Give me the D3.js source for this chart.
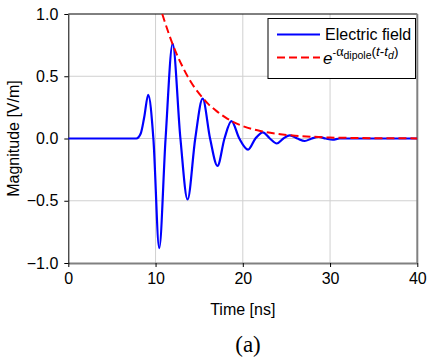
<!DOCTYPE html>
<html>
<head>
<meta charset="utf-8">
<script src="https://d3js.org/d3.v7.min.js"></script>
<style>
  body { margin: 0; background: white; }
  text { font-family: "Liberation Sans", Arial, sans-serif; }
</style>
</head>
<body>
<div id="viz-container"></div>
<script>
// data
let fieldTime = [0, 7.8, 8.3, 8.7, 9.16, 9.75, 10.42, 11.15, 11.96, 12.85, 13.67, 14.55, 15.4, 16.25, 17.1, 17.9, 18.7, 19.6, 20.6, 21.45, 22.3, 23.1, 23.9, 24.65, 25.4, 26.25, 27.1, 27.9, 28.7, 29.5, 30.3, 31.1, 32, 40];
let fieldValue = [0, 0, 0.04, 0.17, 0.35, 0, -0.88, 0, 0.76, 0, -0.49, 0, 0.32, 0, -0.22, 0, 0.14, 0, -0.09, 0, 0.05, 0, -0.04, 0, 0.025, 0, -0.02, 0, 0.012, 0, -0.01, 0, 0, 0];

let envTime = [10.77, 11, 12, 13, 14, 15, 16, 17, 18, 19, 20, 22, 24, 26, 28, 30, 33, 36, 40];
let envValue = [1.0, 0.95, 0.75, 0.59, 0.46, 0.36, 0.28, 0.22, 0.17, 0.13, 0.10, 0.06, 0.037, 0.023, 0.014, 0.008, 0.004, 0.002, 0.001];

let xTicks = [0, 10, 20, 30, 40];
let yTicks = [-1.0, -0.5, 0.0, 0.5, 1.0];

let W = 434, H = 360;
let pLeft = 68.3, pRight = 417.3, pTop = 14, pBottom = 263;

let viz = d3.select("#viz-container")
  .append("svg")
    .attr("width", W)
    .attr("height", H)
;

let x = d3.scaleLinear().domain([0, 40]).range([pLeft, pRight]);
let y = d3.scaleLinear().domain([-1, 1]).range([pBottom, pTop]);

// grid lines
viz.append("g").selectAll("line")
  .data(xTicks.slice(1, -1))
  .join("line")
    .attr("x1", d => x(d)).attr("x2", d => x(d))
    .attr("y1", pTop).attr("y2", pBottom)
    .attr("stroke", "#d0d0d0").attr("stroke-width", 1);

viz.append("g").selectAll("line")
  .data(yTicks.slice(1, -1))
  .join("line")
    .attr("x1", pLeft).attr("x2", pRight)
    .attr("y1", d => y(d)).attr("y2", d => y(d))
    .attr("stroke", "#d0d0d0").attr("stroke-width", 1);

// frame: top black, right gray
viz.append("line")
  .attr("x1", pLeft).attr("x2", pRight).attr("y1", pTop).attr("y2", pTop)
  .attr("stroke", "black").attr("stroke-width", 1);
viz.append("line")
  .attr("x1", pRight).attr("x2", pRight).attr("y1", pTop).attr("y2", pBottom)
  .attr("stroke", "#808080").attr("stroke-width", 2);

// axes
let xAxis = viz.append("g")
  .attr("transform", `translate(0,${pBottom})`)
  .call(d3.axisBottom(x).tickValues(xTicks).tickFormat(d3.format("d")).tickSize(4).tickSizeOuter(0).tickPadding(6));
xAxis.select(".domain").attr("stroke", "#808080").attr("stroke-width", 2);
xAxis.selectAll(".tick line").attr("stroke", "black");
xAxis.selectAll("text").attr("font-size", 16).attr("fill", "black")
  .style("font-family", "'Liberation Sans', Arial, sans-serif");

let yAxis = viz.append("g")
  .attr("transform", `translate(${pLeft},0)`)
  .call(d3.axisLeft(y).tickValues(yTicks).tickFormat(d3.format(".1f")).tickSize(4).tickSizeOuter(0).tickPadding(6));
yAxis.select(".domain").attr("stroke", "black").attr("stroke-width", 1);
yAxis.selectAll(".tick line").attr("stroke", "black");
yAxis.selectAll("text").attr("font-size", 16).attr("fill", "black")
  .style("font-family", "'Liberation Sans', Arial, sans-serif");

// curves
viz.append("clipPath").attr("id", "plot-clip")
  .append("rect").attr("x", pLeft).attr("y", pTop - 1)
  .attr("width", pRight - pLeft).attr("height", pBottom - pTop + 2);

let line = d3.line()
  .x(d => x(d[0]))
  .y(d => y(d[1]))
  .curve(d3.curveMonotoneX);

viz.append("path")
  .datum(fieldTime.map((t, i) => [t, fieldValue[i]]))
  .attr("d", line)
  .attr("fill", "none")
  .attr("stroke", "#0000ff")
  .attr("stroke-width", 2.2)
  .attr("clip-path", "url(#plot-clip)");

viz.append("path")
  .datum(envTime.map((t, i) => [t, envValue[i]]))
  .attr("d", line)
  .attr("fill", "none")
  .attr("stroke", "#ff0000")
  .attr("stroke-width", 2)
  .attr("stroke-dasharray", "8,4")
  .attr("clip-path", "url(#plot-clip)");

// legend
let legend = viz.append("g");
legend.append("rect")
  .attr("x", 268).attr("y", 18.5)
  .attr("width", 147.5).attr("height", 60)
  .attr("fill", "white").attr("stroke", "black").attr("stroke-width", 1);
legend.append("line")
  .attr("x1", 277).attr("x2", 320).attr("y1", 34.5).attr("y2", 34.5)
  .attr("stroke", "#0000ff").attr("stroke-width", 2);
legend.append("text")
  .attr("x", 325).attr("y", 40)
  .attr("font-size", 16)
  .text("Electric field");
legend.append("line")
  .attr("x1", 277).attr("x2", 320).attr("y1", 57.5).attr("y2", 57.5)
  .attr("stroke", "#ff0000").attr("stroke-width", 2)
  .attr("stroke-dasharray", "8,4");

let eq = legend.append("text")
  .attr("x", 323).attr("y", 64)
  .attr("font-size", 17);
eq.append("tspan").attr("font-style", "italic").text("e");
eq.append("tspan").attr("font-size", 11).attr("dy", -8).text("-");
eq.append("tspan").attr("font-size", 14).attr("font-family", "'Liberation Serif', serif").text("α");
eq.append("tspan").attr("font-size", 10.5).attr("dy", 2.5).text("dipole");
eq.append("tspan").attr("font-size", 13.5).attr("dy", -2.5).text("(");
eq.append("tspan").attr("font-size", 13.5).attr("font-style", "italic").text("t");
eq.append("tspan").attr("font-size", 13.5).text("-");
eq.append("tspan").attr("font-size", 13.5).attr("font-style", "italic").text("t");
eq.append("tspan").attr("font-size", 10.5).attr("font-style", "italic").attr("dy", 2.5).text("d");
eq.append("tspan").attr("font-size", 13.5).attr("dy", -2.5).text(")");

// axis titles
viz.append("text")
  .attr("x", (pLeft + pRight) / 2).attr("y", 315)
  .attr("text-anchor", "middle")
  .attr("font-size", 16)
  .text("Time [ns]");

viz.append("text")
  .attr("transform", `translate(19,${(pTop + pBottom) / 2}) rotate(-90)`)
  .attr("text-anchor", "middle")
  .attr("font-size", 16)
  .text("Magnitude [V/m]");

viz.append("text")
  .attr("x", 248).attr("y", 352)
  .attr("text-anchor", "middle")
  .attr("font-size", 23)
  .style("font-family", "'Liberation Serif', 'Times New Roman', serif")
  .text("(a)");
</script>
</body>
</html>
